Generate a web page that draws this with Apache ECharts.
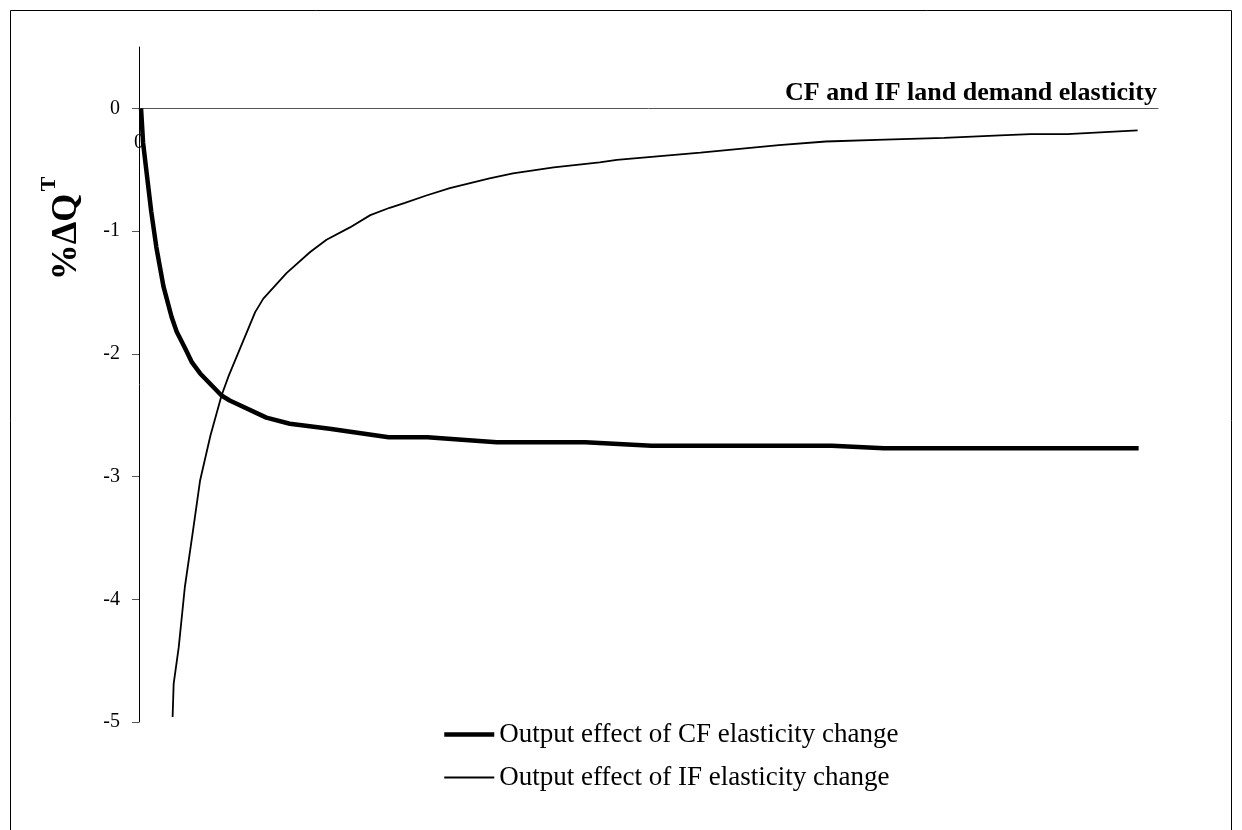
<!DOCTYPE html>
<html>
<head>
<meta charset="utf-8">
<script src="https://cdn.jsdelivr.net/npm/echarts@6/dist/echarts.min.js"></script>
<style>
html, body { margin: 0; padding: 0; background: #fff; }
#myLineChart { width: 1242px; height: 830px; }
</style>
</head>
<body>
<div id="myLineChart"></div>
<script>
// values (x = elasticity, y = %dQ)
var cfX = [0.02, 0.04, 0.12, 0.17, 0.24, 0.32, 0.37, 0.45, 0.52, 0.60, 0.81, 0.89, 1.25, 1.48, 1.87, 2.45, 2.83, 3.51, 4.38, 5.03, 6.80, 7.31, 8.45, 9.81];
var cfY = [0, -0.28, -0.84, -1.13, -1.45, -1.70, -1.82, -1.95, -2.07, -2.16, -2.34, -2.38, -2.52, -2.57, -2.61, -2.68, -2.68, -2.72, -2.72, -2.75, -2.75, -2.77, -2.77, -2.77];

var ifX = [0.33, 0.34, 0.39, 0.45, 0.53, 0.60, 0.70, 0.81, 0.88, 1.14, 1.22, 1.45, 1.68, 1.84, 2.07, 2.27, 2.46, 2.61, 2.82, 3.05, 3.44, 3.67, 4.07, 4.52, 4.69, 5.51, 6.28, 6.74, 7.32, 7.90, 8.45, 8.75, 9.11, 9.80];
var ifY = [-4.96, -4.69, -4.39, -3.90, -3.44, -3.03, -2.67, -2.34, -2.18, -1.66, -1.55, -1.34, -1.17, -1.07, -0.97, -0.87, -0.81, -0.77, -0.71, -0.65, -0.57, -0.53, -0.48, -0.44, -0.42, -0.36, -0.30, -0.27, -0.255, -0.24, -0.22, -0.21, -0.21, -0.18];

var seriesNames = ["Output effect of CF elasticity change", "Output effect of IF elasticity change"];
var yTicks = [-5, -4, -3, -2, -1, 0];
var xTicks = [0];
var chartTitle = "CF and IF land demand elasticity";

var serif = "'Liberation Serif', 'Times New Roman', serif";

function pairs(xs, ys){
    var out = [];
    for(var i=0;i<xs.length;i++){
        out.push([xs[i], ys[i]]);
    }
    return out;
}

var gridTop = 47, gridBottom = 108, chartH = 830;
var yMin = -5, yMax = 0.5;
// move the x axis up from the grid bottom onto the zero line
var zeroOffset = -((chartH - gridBottom - gridTop) * (0 - yMin) / (yMax - yMin));

var chart = echarts.init(document.getElementById("myLineChart"), null, {renderer: "canvas"});

var option = {
    "backgroundColor": "#fff",
    "animation": false,
    "grid": {
        "left": 139,
        "right": 84,
        "top": gridTop,
        "bottom": gridBottom
    },
    "legend": {
        "orient": "vertical",
        "left": 442,
        "top": 721,
        "padding": 0,
        "itemWidth": 50,
        "itemHeight": 14,
        "itemGap": 16,
        "itemStyle": {"opacity": 0},
        "data": [
            {"name": seriesNames[0], "lineStyle": {"width": 4.5, "color": "#000"}},
            {"name": seriesNames[1], "lineStyle": {"width": 1.8, "color": "#000"}}
        ],
        "textStyle": {
            "fontFamily": serif,
            "fontSize": 27,
            "color": "#000"
        }
    },
    "xAxis": {
        "type": "value",
        "position": "bottom",
        "offset": zeroOffset,
        "min": 0,
        "max": 10,
        "interval": 10,
        "splitLine": {"show": false},
        "axisTick": {"show": false},
        "axisLine": {
            "onZero": false,
            "lineStyle": {"color": "#555", "width": 1}
        },
        "axisLabel": {
            "customValues": xTicks,
            "margin": 24,
            "fontFamily": serif,
            "fontSize": 20,
            "color": "#000"
        }
    },
    "yAxis": {
        "type": "value",
        "min": yMin,
        "max": yMax,
        "interval": 1,
        "splitLine": {"show": false},
        "axisLine": {
            "onZero": false,
            "lineStyle": {"color": "#000", "width": 1}
        },
        "axisTick": {
            "customValues": yTicks,
            "length": 7,
            "lineStyle": {"color": "#555"}
        },
        "axisLabel": {
            "customValues": yTicks,
            "margin": 19,
            "fontFamily": serif,
            "fontSize": 20,
            "color": "#000"
        }
    },
    "graphic": [
        {
            "type": "rect",
            "silent": true,
            "shape": {"x": 10.5, "y": 10.5, "width": 1221, "height": 840},
            "style": {"fill": "none", "stroke": "#000", "lineWidth": 1}
        },
        {
            "type": "text",
            "silent": true,
            "x": 1157,
            "y": 93,
            "style": {
                "text": chartTitle,
                "align": "right",
                "verticalAlign": "middle",
                "font": "bold 26px " + serif,
                "fill": "#000"
            }
        },
        {
            "type": "text",
            "silent": true,
            "x": 67,
            "y": 237,
            "rotation": Math.PI / 2,
            "style": {
                "text": "%\u0394Q",
                "align": "center",
                "verticalAlign": "middle",
                "font": "bold 36px " + serif,
                "fill": "#000"
            }
        },
        {
            "type": "text",
            "silent": true,
            "x": 49,
            "y": 184,
            "rotation": Math.PI / 2,
            "style": {
                "text": "T",
                "align": "center",
                "verticalAlign": "middle",
                "font": "bold 22px " + serif,
                "fill": "#000"
            }
        }
    ],
    "series": [
        {
            "name": seriesNames[0],
            "type": "line",
            "symbol": "none",
            "smooth": false,
            "lineStyle": {"color": "#000", "width": 4.5},
            "itemStyle": {"color": "#000"},
            "data": pairs(cfX, cfY)
        },
        {
            "name": seriesNames[1],
            "type": "line",
            "symbol": "none",
            "smooth": false,
            "lineStyle": {"color": "#000", "width": 1.8},
            "itemStyle": {"color": "#000"},
            "data": pairs(ifX, ifY)
        }
    ]
};
if( option && option.series ){
    chart.setOption(option);
}
</script>
</body>
</html>
